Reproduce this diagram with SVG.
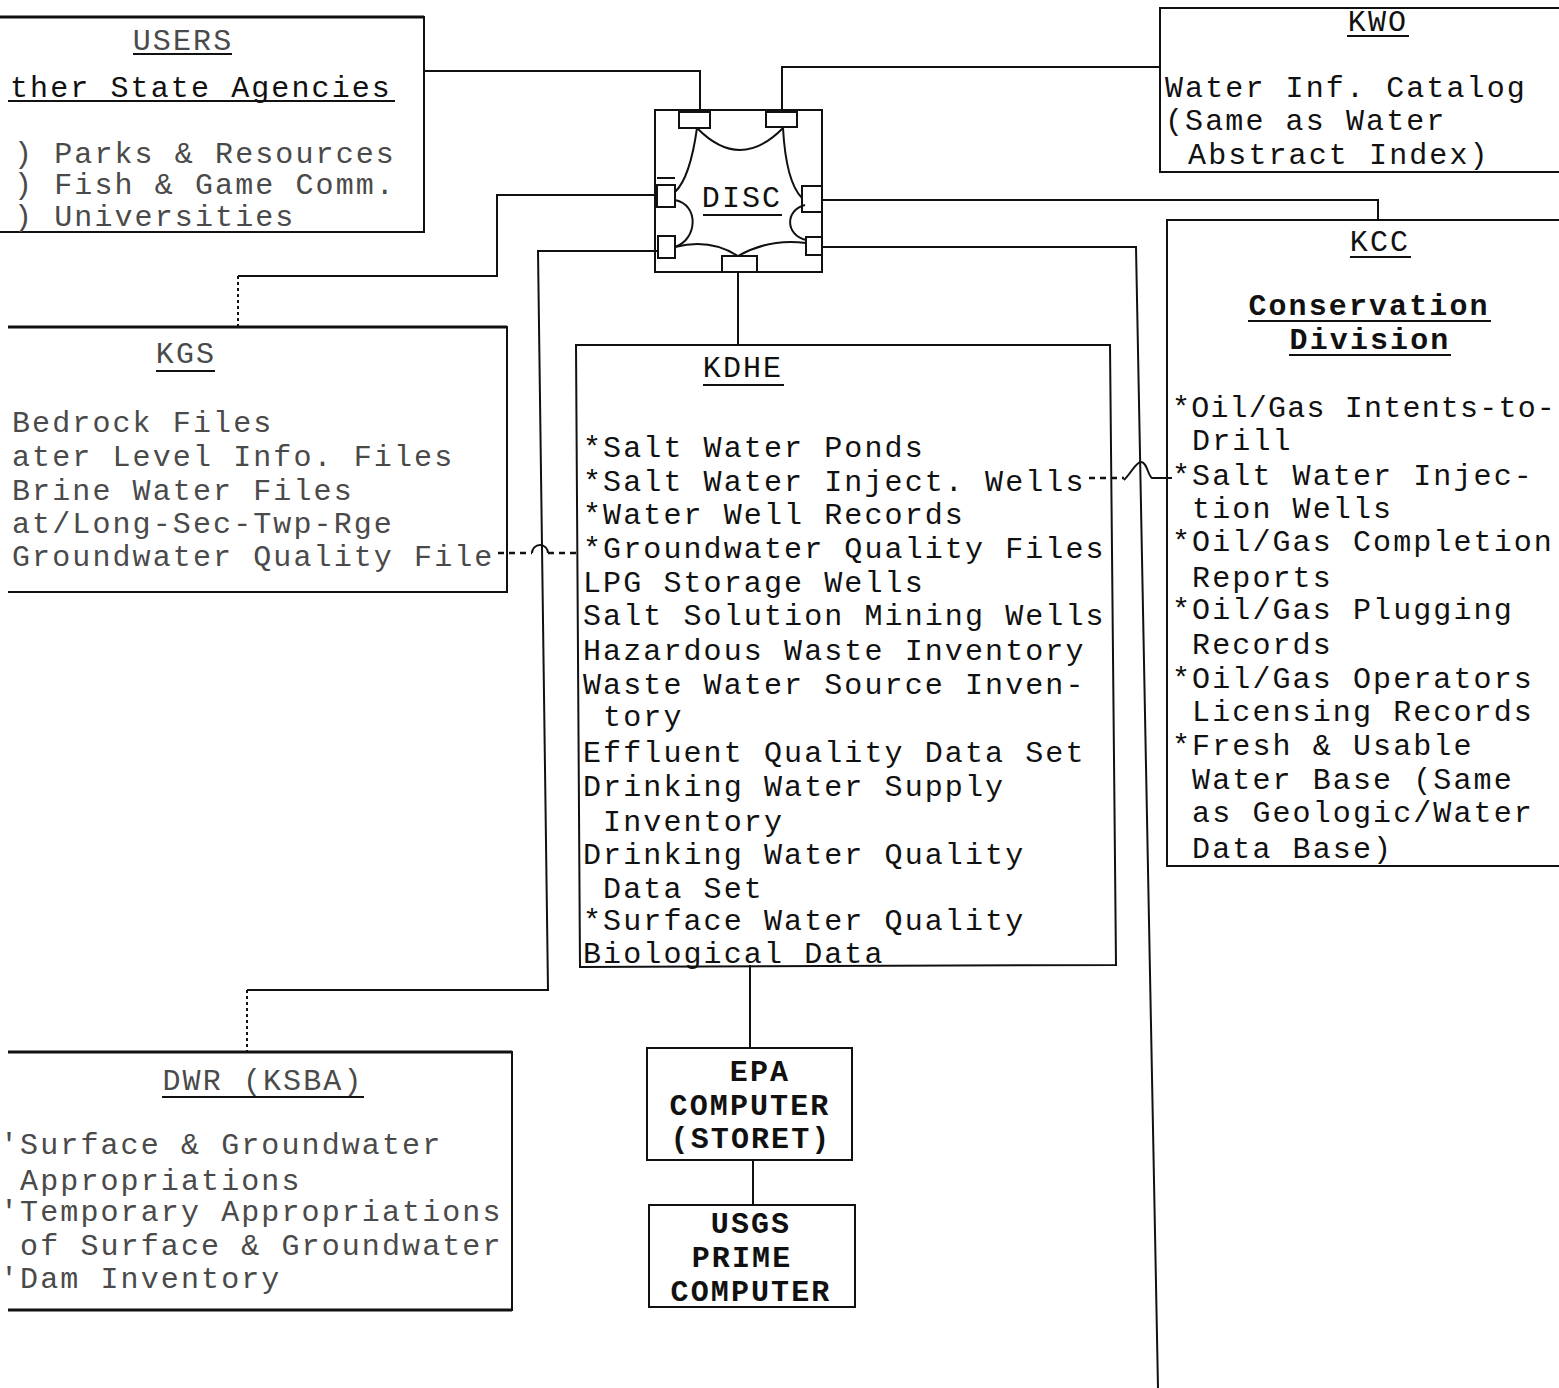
<svg xmlns="http://www.w3.org/2000/svg" width="1559" height="1388" viewBox="0 0 1559 1388" xml:space="preserve">
<style>
.t{font-family:"Liberation Mono","DejaVu Sans Mono",monospace;font-size:30px;letter-spacing:2.1px;fill:#111;white-space:pre}
.f{fill:#4a4a4a}
.b{font-weight:bold}
.m{text-anchor:middle}
.ln{fill:none;stroke:#111;stroke-width:2}
.th{fill:none;stroke:#111;stroke-width:3}
.u{stroke:#111;stroke-width:2}
.dot{fill:none;stroke:#111;stroke-width:2.5;stroke-dasharray:6 5}
.port{fill:#fff;stroke:#111;stroke-width:2}
</style>
<rect width="1559" height="1388" fill="#fff"/>

<g id="connectors">
  <polyline class="ln" points="424,71 700,71 700,112"/>
  <polyline class="ln" points="782,112 782,67 1160,67"/>
  <polyline class="ln" points="822,200 1378,200 1378,220"/>
  <polyline class="ln" points="822,247 1136,247 1158,1388"/>
  <polyline class="ln" points="657,195 497,195 497,276 238,276"/>
  <line class="ln" x1="238" y1="276" x2="238" y2="327" stroke-dasharray="3 3" stroke-width="1.5"/>
  <polyline class="ln" points="657,251 538,251 548,990 247,990"/>
  <line class="ln" x1="247" y1="990" x2="247" y2="1052" stroke-dasharray="3 3" stroke-width="1.5"/>
  <line class="ln" x1="738" y1="272" x2="738" y2="345"/>
  <line class="ln" x1="750" y1="965" x2="750" y2="1048"/>
  <line class="ln" x1="753" y1="1160" x2="753" y2="1205"/>
  <line class="dot" x1="498" y1="553" x2="532" y2="553"/>
  <path class="ln" stroke-width="2.5" d="M532,553 A8,8 0 0 1 548,553"/>
  <line class="dot" x1="548" y1="553" x2="580" y2="553"/>
  <line class="dot" x1="1089" y1="478" x2="1124" y2="478"/>
  <path class="ln" stroke-width="2.5" d="M1124,480 C1132,472 1136,462 1141,462 C1147,462 1148,476 1152,478 L1172,478"/>
</g>

<g id="users">
  <path class="ln" d="M0,17 H424 V232 H0"/>
  <line class="th" x1="0" y1="17" x2="424" y2="17"/>
  <text class="t f m" x="183" y="50">USERS</text>
  <line class="u" x1="133" y1="54" x2="232" y2="54"/>
  <text class="t" x="10" y="97">ther State Agencies</text>
  <line class="u" x1="8" y1="101" x2="395" y2="101"/>
  <text class="t f" x="14" y="163">) Parks &amp; Resources</text>
  <text class="t f" x="14" y="194">) Fish &amp; Game Comm.</text>
  <text class="t f" x="14" y="226">) Universities</text>
</g>

<g id="kwo">
  <path class="ln" d="M1559,8 H1160 V172 H1559"/>
  <text class="t m" x="1378" y="31">KWO</text>
  <line class="u" x1="1347" y1="36" x2="1409" y2="36"/>
  <text class="t" x="1165" y="97">Water Inf. Catalog</text>
  <text class="t" x="1165" y="130">(Same as Water</text>
  <text class="t" x="1168" y="164"> Abstract Index)</text>
</g>

<g id="kcc">
  <path class="ln" d="M1559,220 H1167 V866 H1559"/>
  <text class="t m" x="1380" y="251">KCC</text>
  <line class="u" x1="1350" y1="257" x2="1411" y2="257"/>
  <text class="t b m" x="1369" y="315">Conservation</text>
  <line class="u" x1="1248" y1="321" x2="1491" y2="321"/>
  <text class="t b m" x="1370" y="349">Division</text>
  <line class="u" x1="1289" y1="355" x2="1451" y2="355"/>
  <text class="t" x="1172" y="417" style="letter-spacing:1.2px">*Oil/Gas Intents-to-</text>
  <text class="t" x="1172" y="450"> Drill</text>
  <text class="t" x="1172" y="485">*Salt Water Injec-</text>
  <text class="t" x="1172" y="518"> tion Wells</text>
  <text class="t" x="1172" y="551">*Oil/Gas Completion</text>
  <text class="t" x="1172" y="587"> Reports</text>
  <text class="t" x="1172" y="619">*Oil/Gas Plugging</text>
  <text class="t" x="1172" y="654"> Records</text>
  <text class="t" x="1172" y="688">*Oil/Gas Operators</text>
  <text class="t" x="1172" y="721"> Licensing Records</text>
  <text class="t" x="1172" y="755">*Fresh &amp; Usable</text>
  <text class="t" x="1172" y="789"> Water Base (Same</text>
  <text class="t" x="1172" y="822"> as Geologic/Water</text>
  <text class="t" x="1172" y="858"> Data Base)</text>
</g>

<g id="disc">
  <rect class="ln" x="655" y="110" width="167" height="162"/>
  <rect class="port" x="679" y="112" width="31" height="16"/>
  <rect class="port" x="766" y="112" width="31" height="15"/>
  <line class="u" x1="657" y1="178" x2="675" y2="178"/>
  <rect class="port" x="657" y="185" width="18" height="22"/>
  <rect class="port" x="658" y="236" width="17" height="22"/>
  <rect class="port" x="802" y="186" width="20" height="26"/>
  <rect class="port" x="806" y="237" width="16" height="18"/>
  <rect class="port" x="722" y="256" width="35" height="16"/>
  <path class="ln" d="M697,128 Q740,172 783,128"/>
  <path class="ln" d="M697,128 Q690,178 675,192"/>
  <path class="ln" d="M783,128 Q786,182 802,198"/>
  <path class="ln" d="M675,200 C700,205 697,240 675,247"/>
  <path class="ln" d="M805,205 C785,210 785,235 806,240"/>
  <path class="ln" d="M675,247 Q710,238 738,256 Q770,238 806,243"/>
  <text class="t m" x="742" y="207">DISC</text>
  <line class="u" x1="703" y1="215" x2="782" y2="215"/>
</g>

<g id="kgs">
  <path class="ln" d="M8,327 H507 V592 H8"/>
  <line class="th" x1="8" y1="327" x2="507" y2="327"/>
  <text class="t f m" x="186" y="363">KGS</text>
  <line class="u" x1="156" y1="371" x2="215" y2="371"/>
  <text class="t f" x="12" y="432">Bedrock Files</text>
  <text class="t f" x="12" y="466">ater Level Info. Files</text>
  <text class="t f" x="12" y="500">Brine Water Files</text>
  <text class="t f" x="12" y="533">at/Long-Sec-Twp-Rge</text>
  <text class="t f" x="12" y="566">Groundwater Quality File</text>
</g>

<g id="kdhe">
  <path class="ln" d="M576,345 L1110,345 L1116,965 L580,967 Z"/>
  <text class="t m" x="743" y="377">KDHE</text>
  <line class="u" x1="703" y1="385" x2="784" y2="385"/>
  <text class="t" x="583" y="457">*Salt Water Ponds</text>
  <text class="t" x="583" y="491">*Salt Water Inject. Wells</text>
  <text class="t" x="583" y="524">*Water Well Records</text>
  <text class="t" x="583" y="558">*Groundwater Quality Files</text>
  <text class="t" x="583" y="592">LPG Storage Wells</text>
  <text class="t" x="583" y="625">Salt Solution Mining Wells</text>
  <text class="t" x="583" y="660">Hazardous Waste Inventory</text>
  <text class="t" x="583" y="694">Waste Water Source Inven-</text>
  <text class="t" x="583" y="726"> tory</text>
  <text class="t" x="583" y="762">Effluent Quality Data Set</text>
  <text class="t" x="583" y="796">Drinking Water Supply</text>
  <text class="t" x="583" y="831"> Inventory</text>
  <text class="t" x="583" y="864">Drinking Water Quality</text>
  <text class="t" x="583" y="898"> Data Set</text>
  <text class="t" x="583" y="930">*Surface Water Quality</text>
  <text class="t" x="583" y="963">Biological Data</text>
</g>

<g id="epa">
  <rect class="ln" x="647" y="1048" width="205" height="112"/>
  <text class="t b m" x="760" y="1081">EPA</text>
  <text class="t b m" x="750" y="1115">COMPUTER</text>
  <text class="t b m" x="751" y="1148">(STORET)</text>
</g>

<g id="usgs">
  <rect class="ln" x="649" y="1205" width="206" height="102"/>
  <text class="t b m" x="751" y="1233">USGS</text>
  <text class="t b m" x="742" y="1267">PRIME</text>
  <text class="t b m" x="751" y="1301">COMPUTER</text>
</g>

<g id="dwr">
  <path class="ln" d="M8,1052 H512 V1310 H8"/>
  <line class="th" x1="8" y1="1052" x2="512" y2="1052"/>
  <line class="th" x1="8" y1="1310" x2="512" y2="1310"/>
  <text class="t f m" x="263" y="1090">DWR (KSBA)</text>
  <line class="u" x1="162" y1="1097" x2="364" y2="1097"/>
  <text class="t f" x="0" y="1154">'Surface &amp; Groundwater</text>
  <text class="t f" x="0" y="1190"> Appropriations</text>
  <text class="t f" x="0" y="1221">'Temporary Appropriations</text>
  <text class="t f" x="0" y="1255"> of Surface &amp; Groundwater</text>
  <text class="t f" x="0" y="1288">'Dam Inventory</text>
</g>
</svg>
